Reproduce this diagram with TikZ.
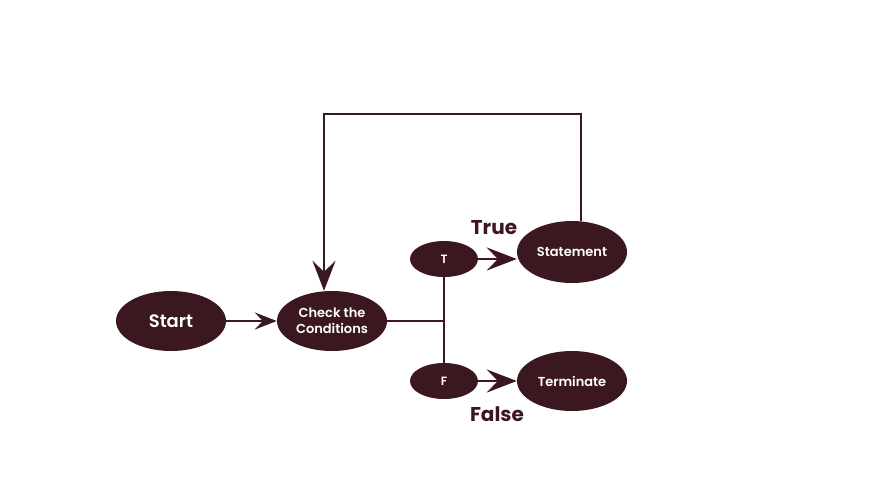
\documentclass[tikz,border=0pt]{standalone}
\usepackage{fontspec}
\setmainfont{Poppins}[BoldFont={Poppins SemiBold}]
\newfontfamily\heavyfont{Poppins Bold}
\usetikzlibrary{arrows.meta, shapes.geometric}
\definecolor{maroon}{HTML}{3B1820}
\tikzset{
  blob/.style={ellipse, fill=maroon, text=white, font=\bfseries, align=center, inner sep=0pt},
  tag/.style={text=maroon, font=\heavyfont\fontsize{20}{24}\selectfont},
  link/.style={draw=maroon, line width=2.5pt},
  tip/.style={link, -{Stealth[length=22pt, width=17pt, inset=8pt]}},
  bigtip/.style={link, -{Stealth[length=30pt, width=23pt, inset=11pt]}},
}
\begin{document}
\begin{tikzpicture}[x=1pt, y=-1pt]
  \useasboundingbox (0,0) rectangle (870,499);

  % Nodes
  \node[blob, minimum width=110pt, minimum height=60pt, font=\bfseries\fontsize{18}{21}\selectfont] (start) at (171,321) {Start};
  \node[blob, minimum width=110pt, minimum height=60pt, font=\bfseries\fontsize{13}{16}\selectfont] (check) at (332,321) {Check the\\Conditions};
  \node[blob, minimum width=68pt, minimum height=36pt, font=\bfseries\fontsize{12}{14}\selectfont] (t) at (444,259) {T};
  \node[blob, minimum width=68pt, minimum height=36pt, font=\bfseries\fontsize{12}{14}\selectfont] (f) at (444,381) {F};
  \node[blob, minimum width=110pt, minimum height=62pt, font=\bfseries\fontsize{13}{16}\selectfont] (stmt) at (572,252) {Statement};
  \node[blob, minimum width=110pt, minimum height=60pt, font=\bfseries\fontsize{13}{16}\selectfont] (term) at (572,381) {Terminate};

  % Labels
  \node[tag] (truelbl) at (494,228) {True};
  \node[tag] (falselbl) at (497,414) {False};

  % Connectors
  \coordinate (junc) at (444,321);
  \coordinate (loopR) at (581,114);
  \coordinate (loopL) at (324,114);
  \draw[tip] (start.east) -- (check.west);
  \draw[link] (check.east) -- (junc);
  \draw[link] (t.south) -- (f.north);
  \draw[bigtip] (t.east) -- (stmt.west |- t.east);
  \draw[bigtip] (f.east) -- (term.west);
  \draw[bigtip] (stmt.north -| loopR) -- (loopR) -- (loopL) -- (check.north -| loopL);
\end{tikzpicture}
\end{document}
